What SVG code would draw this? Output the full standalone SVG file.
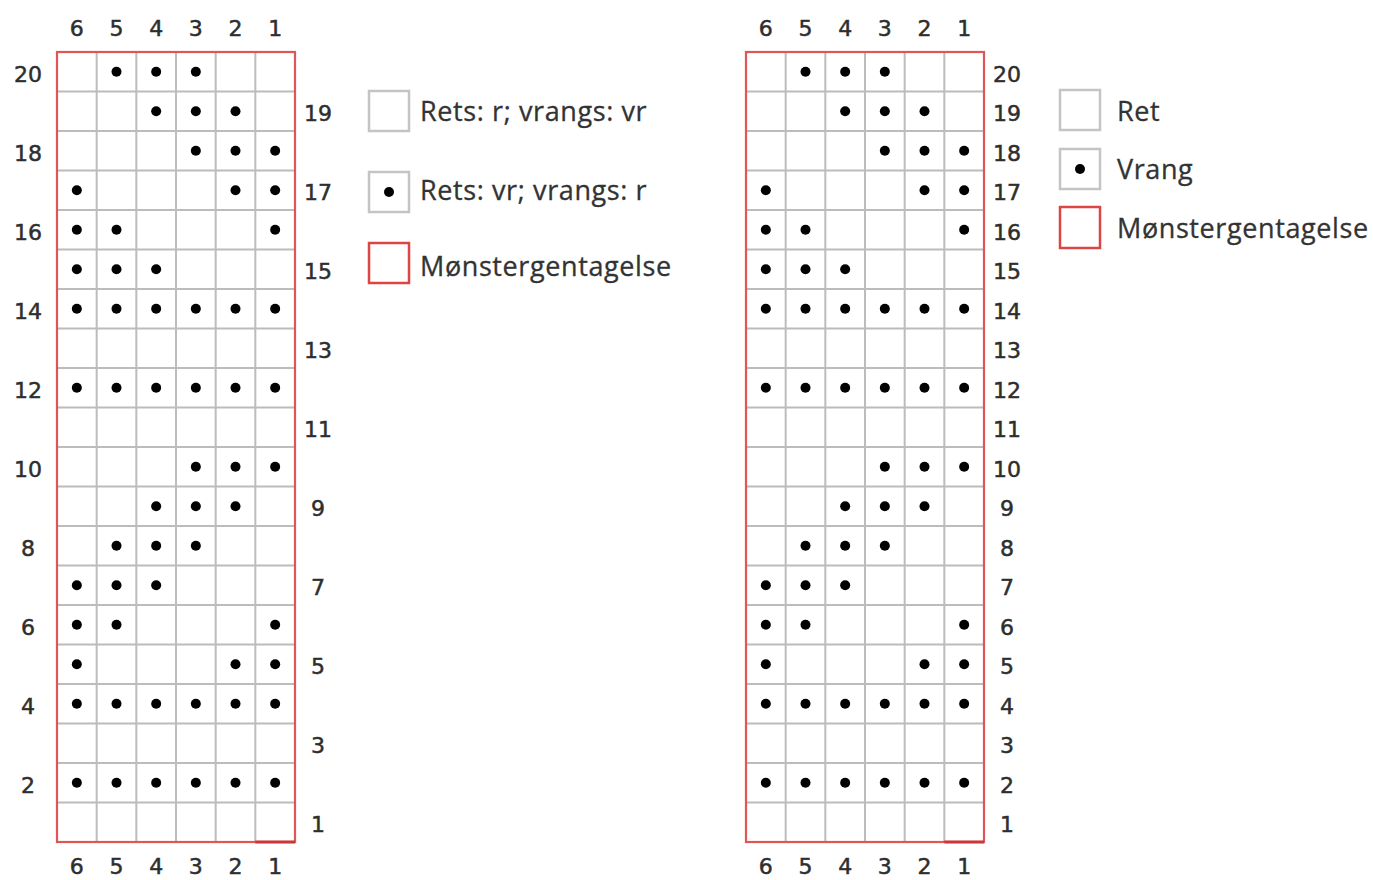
<svg xmlns="http://www.w3.org/2000/svg" xmlns:xlink="http://www.w3.org/1999/xlink" width="1373" height="880" viewBox="0 0 1373 880">
<style>
.grid{stroke:#bcbcbc;stroke-width:2;fill:none}
.frame{stroke:#e05555;stroke-width:2.2;fill:none}
.num{font-family:"DejaVu Sans",Verdana,sans-serif;font-size:22px;fill:#2e2e2e;stroke:#2e2e2e;stroke-width:0.5;text-anchor:middle}
.leg{font-family:"Open Sans","Noto Sans",sans-serif;font-size:27px;letter-spacing:0.6px;fill:#333;stroke:#333;stroke-width:0.3}
.lbox{fill:#fff;stroke:#c4c4c4;stroke-width:2.5}
.rbox{fill:#fff;stroke:#dd4444;stroke-width:2.5}
.dot{fill:#000}
</style>
<defs>
<circle id="d" r="5" class="dot"/>
<g id="body">
<rect x="0" y="0" width="238" height="790" fill="#fff"/>
<path class="grid" d="M39.67 0V790M79.33 0V790M119 0V790M158.67 0V790M198.33 0V790
M0 39.5H238M0 79H238M0 118.5H238M0 158H238M0 197.5H238M0 237H238M0 276.5H238M0 316H238M0 355.5H238M0 395H238M0 434.5H238M0 474H238M0 513.5H238M0 553H238M0 592.5H238M0 632H238M0 671.5H238M0 711H238M0 750.5H238"/>
<rect class="frame" x="0" y="0" width="238" height="790"/>
<line x1="198.33" y1="790" x2="238" y2="790" stroke="#c83838" stroke-width="3"/>
<!-- row 20 -->
<use href="#d" x="59.5" y="19.75"/><use href="#d" x="99.17" y="19.75"/><use href="#d" x="138.83" y="19.75"/>
<!-- row 19 -->
<use href="#d" x="99.17" y="59.25"/><use href="#d" x="138.83" y="59.25"/><use href="#d" x="178.5" y="59.25"/>
<!-- row 18 -->
<use href="#d" x="138.83" y="98.75"/><use href="#d" x="178.5" y="98.75"/><use href="#d" x="218.17" y="98.75"/>
<!-- row 17 -->
<use href="#d" x="19.83" y="138.25"/><use href="#d" x="178.5" y="138.25"/><use href="#d" x="218.17" y="138.25"/>
<!-- row 16 -->
<use href="#d" x="19.83" y="177.75"/><use href="#d" x="59.5" y="177.75"/><use href="#d" x="218.17" y="177.75"/>
<!-- row 15 -->
<use href="#d" x="19.83" y="217.25"/><use href="#d" x="59.5" y="217.25"/><use href="#d" x="99.17" y="217.25"/>
<!-- row 14 -->
<use href="#d" x="19.83" y="256.75"/><use href="#d" x="59.5" y="256.75"/><use href="#d" x="99.17" y="256.75"/><use href="#d" x="138.83" y="256.75"/><use href="#d" x="178.5" y="256.75"/><use href="#d" x="218.17" y="256.75"/>
<!-- row 12 -->
<use href="#d" x="19.83" y="335.75"/><use href="#d" x="59.5" y="335.75"/><use href="#d" x="99.17" y="335.75"/><use href="#d" x="138.83" y="335.75"/><use href="#d" x="178.5" y="335.75"/><use href="#d" x="218.17" y="335.75"/>
<!-- row 10 -->
<use href="#d" x="138.83" y="414.75"/><use href="#d" x="178.5" y="414.75"/><use href="#d" x="218.17" y="414.75"/>
<!-- row 9 -->
<use href="#d" x="99.17" y="454.25"/><use href="#d" x="138.83" y="454.25"/><use href="#d" x="178.5" y="454.25"/>
<!-- row 8 -->
<use href="#d" x="59.5" y="493.75"/><use href="#d" x="99.17" y="493.75"/><use href="#d" x="138.83" y="493.75"/>
<!-- row 7 -->
<use href="#d" x="19.83" y="533.25"/><use href="#d" x="59.5" y="533.25"/><use href="#d" x="99.17" y="533.25"/>
<!-- row 6 -->
<use href="#d" x="19.83" y="572.75"/><use href="#d" x="59.5" y="572.75"/><use href="#d" x="218.17" y="572.75"/>
<!-- row 5 -->
<use href="#d" x="19.83" y="612.25"/><use href="#d" x="178.5" y="612.25"/><use href="#d" x="218.17" y="612.25"/>
<!-- row 4 -->
<use href="#d" x="19.83" y="651.75"/><use href="#d" x="59.5" y="651.75"/><use href="#d" x="99.17" y="651.75"/><use href="#d" x="138.83" y="651.75"/><use href="#d" x="178.5" y="651.75"/><use href="#d" x="218.17" y="651.75"/>
<!-- row 2 -->
<use href="#d" x="19.83" y="730.75"/><use href="#d" x="59.5" y="730.75"/><use href="#d" x="99.17" y="730.75"/><use href="#d" x="138.83" y="730.75"/><use href="#d" x="178.5" y="730.75"/><use href="#d" x="218.17" y="730.75"/>
</g>
<g id="cols">
<text class="num" x="19.83">6</text><text class="num" x="59.5">5</text><text class="num" x="99.17">4</text><text class="num" x="138.83">3</text><text class="num" x="178.5">2</text><text class="num" x="218.17">1</text>
</g>
</defs>

<rect width="1373" height="880" fill="#fff"/>

<g id="chart-left">
<use href="#body" x="57" y="52"/>
<use href="#cols" x="57" y="36"/>
<use href="#cols" x="57" y="874"/>
<text class="num" x="28" y="81.5">20</text>
<text class="num" x="28" y="160.5">18</text>
<text class="num" x="28" y="239.5">16</text>
<text class="num" x="28" y="318.5">14</text>
<text class="num" x="28" y="397.5">12</text>
<text class="num" x="28" y="476.5">10</text>
<text class="num" x="28" y="555.5">8</text>
<text class="num" x="28" y="634.5">6</text>
<text class="num" x="28" y="713.5">4</text>
<text class="num" x="28" y="792.5">2</text>
<text class="num" x="318" y="121">19</text>
<text class="num" x="318" y="200">17</text>
<text class="num" x="318" y="279">15</text>
<text class="num" x="318" y="358">13</text>
<text class="num" x="318" y="437">11</text>
<text class="num" x="318" y="516">9</text>
<text class="num" x="318" y="595">7</text>
<text class="num" x="318" y="674">5</text>
<text class="num" x="318" y="753">3</text>
<text class="num" x="318" y="832">1</text>
</g>

<g id="legend-left">
<rect class="lbox" x="369" y="91" width="40" height="40"/>
<text class="leg" x="420" y="121">Rets: r; vrangs: vr</text>
<rect class="lbox" x="369" y="172" width="40" height="40"/>
<circle class="dot" cx="389" cy="192" r="5"/>
<text class="leg" x="420" y="200">Rets: vr; vrangs: r</text>
<rect class="rbox" x="369" y="243" width="40" height="40"/>
<text class="leg" x="420" y="276">Mønstergentagelse</text>
</g>

<g id="chart-right">
<use href="#body" x="746" y="52"/>
<use href="#cols" x="746" y="36"/>
<use href="#cols" x="746" y="874"/>
<text class="num" x="1007" y="81.5">20</text>
<text class="num" x="1007" y="121">19</text>
<text class="num" x="1007" y="160.5">18</text>
<text class="num" x="1007" y="200">17</text>
<text class="num" x="1007" y="239.5">16</text>
<text class="num" x="1007" y="279">15</text>
<text class="num" x="1007" y="318.5">14</text>
<text class="num" x="1007" y="358">13</text>
<text class="num" x="1007" y="397.5">12</text>
<text class="num" x="1007" y="437">11</text>
<text class="num" x="1007" y="476.5">10</text>
<text class="num" x="1007" y="516">9</text>
<text class="num" x="1007" y="555.5">8</text>
<text class="num" x="1007" y="595">7</text>
<text class="num" x="1007" y="634.5">6</text>
<text class="num" x="1007" y="674">5</text>
<text class="num" x="1007" y="713.5">4</text>
<text class="num" x="1007" y="753">3</text>
<text class="num" x="1007" y="792.5">2</text>
<text class="num" x="1007" y="832">1</text>
</g>

<g id="legend-right">
<rect class="lbox" x="1060" y="90" width="40" height="40"/>
<text class="leg" x="1117" y="121">Ret</text>
<rect class="lbox" x="1060" y="149" width="40" height="40"/>
<circle class="dot" cx="1080" cy="169" r="5"/>
<text class="leg" x="1117" y="179">Vrang</text>
<rect class="rbox" x="1060" y="207" width="40" height="41"/>
<text class="leg" x="1117" y="238">Mønstergentagelse</text>
</g>
</svg>
